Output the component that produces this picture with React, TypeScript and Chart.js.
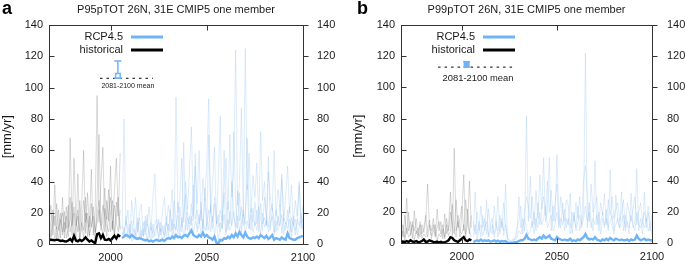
import React, { useEffect, useRef } from "react";
import { Chart, registerables } from "chart.js";
Chart.register(...registerables);

const HIST_START = 1968;
const RCP_START = 2006;
const X_MIN = 1968;
const X_MAX = 2100;
const X_TICKS = [2000, 2050, 2100];
const Y_TICKS = [0, 20, 40, 60, 80, 100, 120, 140];

// ---------- Panel a (P95pTOT) ----------
const histA1 = [12,25,6,38,10,22,4,30,8,18,5,68,12,20,3,45,9,26,60,7,33,11,48,6,22,95,14,40,62,8,28,15,50,9,35,55,18,58];
const histA2 = [14,5,19,3,11,2,16,8,21,4,10,15,27,6,12,22,4,14,9,30,5,18,11,24,7,19,28,13,6,23,16,35,8,15,5,27,18,9];
const histA3 = [5,15,22,12,26,9,15,20,4,24,11,30,6,55,16,8,28,12,4,20,15,6,26,11,3,30,70,12,25,18,5,20,30,10,25,14,8,22];
const histA4 = [8,3,14,18,4,12,20,6,14,10,25,8,15,24,12,18,4,10,28,14,20,5,12,18,8,14,22,9,16,36,12,8,20,28,6,18,30,10];
const histMeanA = [2.5,3,2.8,2.6,3,2.7,2.2,2.5,2,1.8,2.5,3.5,2,5.5,2.5,2,3,2.2,3,4.5,3,1.8,2.5,1.5,0.8,6.5,7,4,6,3,2.8,3.5,2.5,4,5.5,3.8,6,5];

const rcpA1 = [10,80,12,22,6,28,14,30,8,20, 26,5,18,12,24,9,30,45,10,16, 8,22,30,12,25,18,35,10,94,20, 30,55,14,40,22,48,75,18,50,26, 60,15,42,28,52,93,20,38,62,14, 45,82,10,36,55,22,70,30,48,124, 25,40,87,18,125,35,58,20,44,30, 52,16,72,28,40,12,46,30,22,60, 18,35,24,42,15,30,50,20,38,12, 28,18,40,14,25];
const rcpA2 = [12,6,18,4,10,15,3,9,17,7, 5,14,8,19,4,11,7,13,16,5, 14,8,6,18,5,22,9,28,15,7, 24,11,19,32,9,18,12,38,16,22, 13,27,10,36,17,9,25,14,30,19, 11,22,15,33,8,27,13,40,18,11, 34,15,24,12,20,38,10,23,14,27, 13,24,16,9,30,18,11,21,26,8, 22,12,25,7,17,13,15,24,8,18, 6,16,12,20,10];
const rcpA3 = [3,11,5,9,13,2,10,6,14,4, 9,5,15,2,10,14,4,8,12,3, 10,2,12,5,13,8,16,4,12,19, 6,17,5,14,21,9,18,6,15,10, 19,5,16,9,13,22,8,18,6,15, 2,14,10,19,6,16,9,13,21,8, 18,9,14,22,6,15,10,19,8,14, 9,16,6,20,11,15,8,13,18,6, 15,9,13,19,6,14,10,16,5,13, 16,6,11,15,8];
const rcpA4 = [8,5,15,10,6,11,14,4,9,17, 4,10,6,13,9,3,13,5,9,14, 6,12,4,14,9,18,5,13,9,27, 11,8,65,9,17,13,26,15,58,8, 12,22,8,29,9,70,20,10,26,13, 19,8,15,60,26,9,21,12,72,27, 10,33,8,19,13,68,17,9,23,12, 22,8,26,13,17,12,56,9,23,16, 8,18,12,45,13,9,22,6,17,12, 9,14,38,10,18];
const rcpMeanA = [4,5,6,5.5,4.5,6,5,4,3.5,4, 3.5,3,2.5,3,2,2.5,1.8,2.5,3,2.2, 2.5,3,2.2,3.5,4,3.5,5,4,6,4.5, 5,4,5.5,6,5,7,9,6,5,4.5, 6,5,7.5,5,6,4.5,4,3,5,1, 0.5,3,2.5,4,3.5,5,4,6,4.5,7, 5,8,6,4.5,7.5,5,4,3.5,4.5,4, 5,4,6,5,4,5.5,3.5,4.5,6,3, 4,3.5,3,4.5,3.5,3,7,4,3.5,3, 3,4,4.5,5,5.5];

// 2081-2100 mean marker: [x, value, low, high]
const markerA = [2003.8, 107.6, 106, 117];
const meanLineA = [1994.5, 2022, 106]; // x from, x to, value
const meanLabelA = [2009, 101.3]; // x, value

// ---------- Panel b (P99pTOT) ----------
const histB1 = [6,12,4,29,8,14,3,21,6,10,4,12,7,15,38,9,5,12,4,22,8,14,3,19,6,10,33,5,61,8,14,4,20,44,6,12,40,10];
const histB2 = [14,4,18,6,20,5,12,8,16,3,14,6,10,18,4,12,8,16,5,10,14,6,12,4,16,8,20,12,6,28,10,16,24,8,28,14,6,18];
const histB3 = [3,8,2,10,4,6,14,2,8,5,12,3,6,4,10,15,3,8,12,2,6,4,9,3,12,5,8,25,10,4,18,8,6,12,4,22,8,4];
const histMeanB = [1,1.2,0.8,1.5,1,2,1.2,1,1.5,0.8,1,1.5,2.5,1,1.2,2,1.5,1,0.8,1.2,0.6,1,0.5,0.8,1.2,2,4,3.5,2,1.5,1,2,3,4,2,1.5,2.5,2];

const rcpB1 = [8,33,6,14,4,18,8,28,5,12, 16,4,10,30,6,14,8,38,3,2, 1,2,3,6,30,10,16,8,82,14, 43,10,20,8,26,12,18,55,14,22, 55,8,24,14,57,18,10,26,8,16, 12,32,6,18,10,24,8,14,20,122, 10,26,14,8,53,12,20,6,16,10, 22,8,47,12,6,31,14,10,33,8, 18,12,6,32,10,14,48,8,16,6, 33,10,20,8,14];
const rcpB2 = [14,6,20,8,24,10,16,6,22,10, 6,24,12,8,18,10,26,12,4,2, 2,1,4,10,14,24,6,20,30,24, 16,30,12,34,16,44,22,30,18,40, 20,34,14,26,38,12,30,20,14,28, 24,10,20,14,26,16,30,12,40,50, 30,14,38,20,24,30,12,26,18,32, 12,28,18,30,16,22,26,14,20,28, 10,26,20,14,22,30,12,20,26,14, 20,14,24,12,18];
const rcpB3 = [4,12,3,8,12,5,10,14,4,8, 12,6,14,4,10,16,5,12,2,1, 1,3,2,4,8,6,12,16,10,6, 8,14,6,16,10,20,12,16,24,10, 14,18,8,12,20,10,16,12,22,10, 16,6,12,20,8,14,18,10,16,24, 14,20,10,16,12,18,8,14,20,12, 16,10,14,18,8,12,16,10,14,18, 8,14,10,18,12,8,20,12,10,14, 10,16,8,12,6];
const rcpMeanB = [1,1.5,2,1.5,2.5,1.5,2,1.5,2,1.2, 1.5,2,1.2,1.8,1,1.5,1.2,1.5,0.5,0.3, 0.3,0.5,0.8,1,1.5,2,2,3,5.5,3, 2.5,2,2.5,2,3,4,3,5,3.5,4, 5,3,2.5,2,4,3,2.5,2,2.5,2, 2,3,1.5,2,1.5,2.5,2,3,4,6, 3.5,2.5,3,2.5,4,2.5,2,1.5,2.5,2, 3,2,3.5,2.5,2,3,2.5,2,2.5,2, 2,2.5,1.5,2.5,2,2.5,5,3,2,2.5, 3,2,2.5,2,2];

const markerB = [2002.5, 114.5, 113, 116.5];
const meanLineB = [1987.5, 2026.8, 113];
const meanLabelB = [2008.5, 106];

// ---------- styles ----------
const FONT = '"Liberation Sans", Arial, Helvetica, sans-serif';
const BLUE = "#6fb4f7";
const BLUE_THIN = "rgba(125,182,240,0.32)";
const GRAY_THIN = "rgba(85,85,85,0.28)";
const TEXT = "#1a1a1a";
const AXIS = "#333";

type PanelCfg = {
  letter: string;
  title: string;
  hist: number[][];
  histMean: number[];
  rcp: number[][];
  rcpMean: number[];
  marker: number[];
  filled: boolean;
  meanLine: number[];
  meanLabel: number[];
  labelSize: number;
  left: number;
  width: number;
  yW: number;
  y2W: number;
  y2Pad: number;
  yTitleX: number;
  letterX: number;
};

const toPts = (arr: number[], start: number) => arr.map((v, i) => ({ x: start + i, y: v }));

function Panel({ cfg }: { cfg: PanelCfg }) {
  const ref = useRef<HTMLCanvasElement>(null);
  useEffect(() => {
    const canvas = ref.current!;
    const datasets: any[] = [];
    const [mx, my, mlo, mhi] = cfg.marker;
    datasets.push({
      data: [{ x: mx, y: my }],
      showLine: false,
      pointStyle: "rect",
      pointRadius: 3.2,
      borderColor: BLUE,
      backgroundColor: cfg.filled ? BLUE : "#fff",
      borderWidth: 1.5,
      order: 0,
    });
    datasets.push({
      data: [{ x: mx, y: mlo }, { x: mx, y: mhi }],
      pointStyle: "line",
      pointRadius: 3.5,
      borderColor: BLUE,
      backgroundColor: BLUE,
      borderWidth: 1.5,
      order: 1,
    });
    datasets.push({
      data: [{ x: cfg.meanLine[0], y: cfg.meanLine[2] }, { x: cfg.meanLine[1], y: cfg.meanLine[2] }],
      borderColor: "#000",
      borderWidth: 1,
      borderDash: [2.5, 4],
      pointRadius: 0,
      order: 2,
    });
    datasets.push({ data: toPts(cfg.histMean, HIST_START), borderColor: "#000", borderWidth: 2.4, pointRadius: 0, order: 3 });
    datasets.push({ data: toPts(cfg.rcpMean, RCP_START), borderColor: BLUE, borderWidth: 2.4, pointRadius: 0, order: 3 });
    cfg.rcp.forEach((s) =>
      datasets.push({ data: toPts(s, RCP_START), borderColor: BLUE_THIN, borderWidth: 0.8, pointRadius: 0, order: 10 })
    );
    cfg.hist.forEach((s) =>
      datasets.push({ data: toPts(s, HIST_START), borderColor: GRAY_THIN, borderWidth: 0.8, pointRadius: 0, order: 10 })
    );

    const line = (ctx: CanvasRenderingContext2D, x1: number, y1: number, x2: number, y2: number) => {
      ctx.beginPath();
      ctx.moveTo(x1, y1);
      ctx.lineTo(x2, y2);
      ctx.stroke();
    };

    const decor = {
      id: "decor",
      afterDraw(chart: any) {
        const { ctx, chartArea, scales } = chart;
        const { left, right, top, bottom } = chartArea;
        const xs = scales.x;
        const ys = scales.y;
        ctx.save();
        ctx.strokeStyle = AXIS;
        ctx.lineWidth = 1;
        const L = Math.round(left) + 0.5;
        const R = Math.round(right) + 0.5;
        const T = Math.round(top) + 0.5;
        const B = Math.round(bottom) + 0.5;
        ctx.strokeRect(L, T, R - L, B - T);
        for (const v of Y_TICKS) {
          const py = Math.round(ys.getPixelForValue(v)) + 0.5;
          line(ctx, L, py, L + 5, py);
          line(ctx, R, py, R + 5, py);
        }
        for (const v of X_TICKS) {
          const px = Math.round(xs.getPixelForValue(v)) + 0.5;
          line(ctx, px, T, px, T + 5);
          line(ctx, px, B, px, B - 5);
        }
        ctx.fillStyle = TEXT;
        ctx.font = `11px ${FONT}`;
        ctx.textAlign = "center";
        ctx.textBaseline = "middle";
        ctx.fillText(cfg.title, (left + right) / 2, 10);
        ctx.font = `bold 18px ${FONT}`;
        ctx.textAlign = "left";
        ctx.fillStyle = "#000";
        ctx.fillText(cfg.letter, cfg.letterX, 9);
        ctx.save();
        ctx.translate(cfg.yTitleX, (top + bottom) / 2 + 2);
        ctx.rotate(-Math.PI / 2);
        ctx.font = `13px ${FONT}`;
        ctx.textAlign = "center";
        ctx.fillStyle = TEXT;
        ctx.fillText("[mm/yr]", 0, 0);
        ctx.restore();
        ctx.font = `11px ${FONT}`;
        ctx.textAlign = "right";
        ctx.fillStyle = TEXT;
        ctx.fillText("RCP4.5", left + 74, top + 12);
        ctx.fillText("historical", left + 74, top + 25);
        ctx.lineWidth = 3;
        ctx.strokeStyle = BLUE;
        line(ctx, left + 82, top + 12, left + 114, top + 12);
        ctx.strokeStyle = "#000";
        line(ctx, left + 82, top + 25, left + 114, top + 25);
        ctx.font = `${cfg.labelSize}px ${FONT}`;
        ctx.textAlign = "center";
        ctx.fillStyle = TEXT;
        ctx.fillText(
          "2081-2100 mean",
          xs.getPixelForValue(cfg.meanLabel[0]),
          ys.getPixelForValue(cfg.meanLabel[1])
        );
        ctx.restore();
      },
    };

    const tickFont = { family: FONT, size: 11 };
    const chart = new Chart(canvas, {
      type: "line",
      data: { datasets },
      options: {
        animation: false,
        responsive: false,
        devicePixelRatio: 1,
        layout: { padding: { top: 25, left: 0, right: 0, bottom: 0 } },
        plugins: { legend: { display: false }, tooltip: { enabled: false } },
        elements: { line: { tension: 0 } },
        scales: {
          x: {
            type: "linear",
            min: X_MIN,
            max: X_MAX,
            afterBuildTicks: (s: any) => {
              s.ticks = X_TICKS.map((v) => ({ value: v }));
            },
            afterFit: (s: any) => {
              s.height = 17;
            },
            grid: { display: false, drawTicks: false },
            border: { display: false },
            ticks: { padding: 7, font: tickFont, color: TEXT, maxRotation: 0, autoSkip: false, callback: (v: any) => String(v) },
          },
          y: {
            position: "left",
            min: 0,
            max: 140,
            afterBuildTicks: (s: any) => {
              s.ticks = Y_TICKS.map((v) => ({ value: v }));
            },
            afterFit: (s: any) => {
              s.width = cfg.yW;
            },
            grid: { display: false, drawTicks: false },
            border: { display: false },
            ticks: { padding: 6, font: tickFont, color: TEXT, callback: (v: any) => String(v) },
          },
          y2: {
            position: "right",
            min: 0,
            max: 140,
            afterBuildTicks: (s: any) => {
              s.ticks = Y_TICKS.map((v) => ({ value: v }));
            },
            afterFit: (s: any) => {
              s.width = cfg.y2W;
            },
            grid: { display: false, drawTicks: false },
            border: { display: false },
            ticks: { padding: cfg.y2Pad, font: tickFont, color: TEXT, callback: (v: any) => String(v) },
          },
        },
      } as any,
      plugins: [decor],
    });
    return () => chart.destroy();
  }, [cfg]);
  return (
    <canvas
      ref={ref}
      width={cfg.width}
      height={265}
      style={{ position: "absolute", left: cfg.left, top: 0, width: cfg.width, height: 265 }}
    />
  );
}

const PANEL_A: PanelCfg = {
  letter: "a",
  title: "P95pTOT 26N, 31E CMIP5 one member",
  hist: [histA1, histA2, histA3, histA4],
  histMean: histMeanA,
  rcp: [rcpA1, rcpA2, rcpA3, rcpA4],
  rcpMean: rcpMeanA,
  marker: markerA,
  filled: false,
  meanLine: meanLineA,
  meanLabel: meanLabelA,
  labelSize: 7,
  left: 0,
  width: 342,
  yW: 49,
  y2W: 39,
  y2Pad: 14,
  yTitleX: 7,
  letterX: 2,
};

const PANEL_B: PanelCfg = {
  letter: "b",
  title: "P99pTOT 26N, 31E CMIP5 one member",
  hist: [histB1, histB2, histB3],
  histMean: histMeanB,
  rcp: [rcpB1, rcpB2, rcpB3],
  rcpMean: rcpMeanB,
  marker: markerB,
  filled: true,
  meanLine: meanLineB,
  meanLabel: meanLabelB,
  labelSize: 9.4,
  left: 342,
  width: 343,
  yW: 59,
  y2W: 33,
  y2Pad: 15,
  yTitleX: 16,
  letterX: 15,
};

export default function App() {
  return (
    <div style={{ position: "absolute", left: 0, top: 0, width: 685, height: 265, background: "#fff", overflow: "hidden" }}>
      <Panel cfg={PANEL_A} />
      <Panel cfg={PANEL_B} />
    </div>
  );
}
